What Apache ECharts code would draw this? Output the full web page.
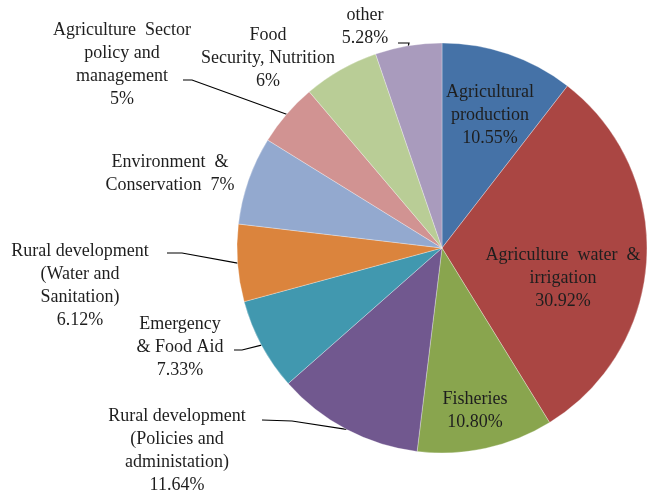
<!DOCTYPE html>
<html>
<head>
<meta charset="utf-8">
<script src="https://cdn.jsdelivr.net/npm/echarts@6/dist/echarts.min.js"></script>
<style>
html,body{margin:0;padding:0;background:#fff;}
#chart{width:649px;height:495px;}
</style>
</head>
<body>
<div id="chart"></div>
<script>
// ---- data ----
var categories = [
  'Agricultural production',
  'Agriculture water & irrigation',
  'Fisheries',
  'Rural development (Policies and administation)',
  'Emergency & Food Aid',
  'Rural development (Water and Sanitation)',
  'Environment & Conservation',
  'Agriculture Sector policy and management',
  'Food Security, Nutrition',
  'other'
];
var values = [10.55, 30.92, 10.80, 11.64, 7.33, 6.12, 7, 5, 6, 5.28];
var labelTexts = [
  'Agricultural\nproduction\n10.55%',
  'Agriculture  water  &\nirrigation\n30.92%',
  'Fisheries\n10.80%',
  'Rural development\n(Policies and\nadministation)\n11.64%',
  'Emergency\n& Food Aid\n7.33%',
  'Rural development\n(Water and\nSanitation)\n6.12%',
  'Environment  &\nConservation  7%',
  'Agriculture  Sector\npolicy and\nmanagement\n5%',
  'Food\nSecurity, Nutrition\n6%',
  'other\n5.28%'
];
var colors = ['#4572A7','#AA4643','#89A54E','#71588F','#4198AF','#DB843D','#93A9CF','#D19392','#B9CD96','#A99BBD'];

// ---- layout (label anchor = centre of text block) ----
var labelPos = [
  [490,115],[563,278],[475,411],[177,451],[180,347],
  [80,286],[170,174],[122,65],[268,58],[365,27]
];
var insideIdx = [0,1,2];
// leader lines: [end point near label, elbow point]; null = no line
var leaders = [
  null,null,null,
  [[262,420],[292,421]],
  [[234,350],[242,350]],
  [[167,253],[182,253]],
  null,
  [[183,80],[192,80]],
  null,
  [[398,43],[409,43]]
];
var CX = 442, CY = 248, R = 205;
var total = values.reduce(function(a,b){return a+b;},0);

function edgePoint(i){
  var cum = 0;
  for (var k=0;k<i;k++) cum += values[k];
  var mid = (cum + values[i]/2)/total*2*Math.PI;
  return [CX + R*Math.sin(mid), CY - R*Math.cos(mid)];
}

var data = categories.map(function(name,i){
  var inside = insideIdx.indexOf(i) >= 0;
  return {
    name: name,
    value: values[i],
    itemStyle: {color: colors[i]},
    label: {position: inside ? 'inside' : 'outside'},
    labelLine: {show: !inside && leaders[i] !== null}
  };
});

var chart = echarts.init(document.getElementById('chart'), null, {renderer:'canvas'});
chart.setOption({
  animation: false,
  backgroundColor: '#fff',
  series: [{
    type: 'pie',
    center: [CX, CY],
    radius: [0, R],
    startAngle: 90,
    clockwise: true,
    avoidLabelOverlap: false,
    silent: true,
    emphasis: {disabled: true},
    itemStyle: {borderColor: 'rgba(255,255,255,0.6)', borderWidth: 0.5},
    label: {
      show: true,
      formatter: function(p){ return labelTexts[p.dataIndex]; },
      fontFamily: '"Liberation Serif", "DejaVu Serif", serif',
      fontSize: 18,
      lineHeight: 23,
      color: '#1e1e1e',
      align: 'center',
      overflow: 'none'
    },
    labelLine: {
      show: true,
      lineStyle: {color: '#000', width: 1.2}
    },
    labelLayout: function(p){
      var i = p.dataIndex;
      var o = {x: labelPos[i][0], y: labelPos[i][1], align: 'center', verticalAlign: 'middle'};
      if (leaders[i]) {
        var e = edgePoint(i);
        o.labelLinePoints = [e, leaders[i][1], leaders[i][0]];
      }
      return o;
    },
    data: data
  }]
});
</script>
</body>
</html>
